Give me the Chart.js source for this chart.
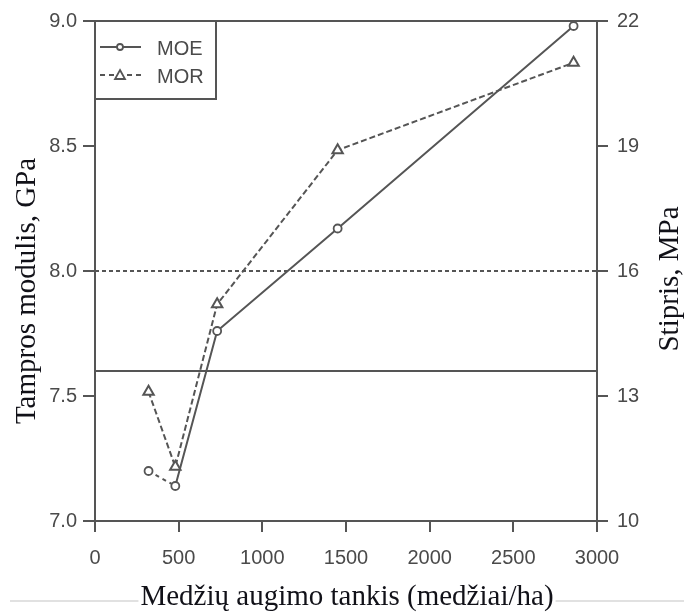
<!DOCTYPE html>
<html>
<head>
<meta charset="utf-8">
<script src="https://cdn.jsdelivr.net/npm/chart.js@4.4.1/dist/chart.umd.min.js"></script>
<style>
  html, body { margin: 0; padding: 0; background: #fff; }
  #wrap { width: 684px; height: 615px; }
</style>
</head>
<body>
<div id="wrap"><canvas id="c" width="684" height="615"></canvas></div>
<script>
// ---- Data ----
const density = [320, 480, 730, 1450, 2860];          // medžiai/ha
const moe = [7.20, 7.14, 7.76, 8.17, 8.98];           // GPa (left axis)
const mor = [13.1, 11.3, 15.2, 18.9, 21.0];           // MPa (right axis)
const refX = [0, 3000];
const refSolid = [7.6, 7.6];                          // solid horizontal line (left axis)
const refDashed = [8.0, 8.0];                         // dashed horizontal line (left axis)
const xTicks = [0, 500, 1000, 1500, 2000, 2500, 3000];
const leftTicks = [7.0, 7.5, 8.0, 8.5, 9.0];
const rightTicks = [10, 13, 16, 19, 22];
const seriesNames = ['MOE', 'MOR'];
const xTitle = 'Medžių augimo tankis (medžiai/ha)';
const leftTitle = 'Tampros modulis, GPa';
const rightTitle = 'Stipris, MPa';

const AX = '#555555';
const TICK_COLOR = '#4a4a4a';
const SERIF = "'Liberation Serif', 'Times New Roman', serif";
const SANS = "'Liberation Sans', Arial, sans-serif";
const TITLE_COLOR = '#111118';

const pts = (xs, ys) => xs.map((x, i) => ({ x: x, y: ys[i] }));

const overlay = {
  id: 'overlay',
  afterDraw(chart) {
    const ctx = chart.ctx;
    const a = chart.chartArea;
    ctx.save();
    // top border
    ctx.strokeStyle = AX; ctx.lineWidth = 2;
    ctx.beginPath(); ctx.moveTo(a.left - 1, a.top); ctx.lineTo(a.right, a.top); ctx.stroke();

    // legend box
    const bx = a.left, by = a.top, bw = 121, bh = 78;
    ctx.fillStyle = '#fff';
    ctx.fillRect(bx, by, bw, bh);
    ctx.strokeStyle = AX; ctx.lineWidth = 2;
    ctx.strokeRect(bx, by, bw, bh);
    const rows = [by + 26, by + 54];
    chart.data.datasets.slice(0, 2).forEach((ds, i) => {
      const y = rows[i];
      ctx.strokeStyle = AX; ctx.lineWidth = 2;
      ctx.setLineDash(i === 0 ? [] : [5, 4]);
      ctx.beginPath(); ctx.moveTo(bx + 5, y); ctx.lineTo(bx + 46, y); ctx.stroke();
      ctx.setLineDash([]);
      ctx.fillStyle = '#fff';
      ctx.lineWidth = 1.8;
      if (i === 0) {
        ctx.beginPath(); ctx.arc(bx + 25, y, 3, 0, Math.PI * 2); ctx.fill(); ctx.stroke();
      } else {
        ctx.beginPath();
        ctx.moveTo(bx + 25, y - 5); ctx.lineTo(bx + 30, y + 4); ctx.lineTo(bx + 20, y + 4); ctx.closePath();
        ctx.fill(); ctx.stroke();
      }
      ctx.fillStyle = TICK_COLOR;
      ctx.font = '20px ' + SANS;
      ctx.textAlign = 'left'; ctx.textBaseline = 'middle';
      ctx.fillText(ds.label, bx + 62, y + 2);
    });

    // axis titles
    ctx.fillStyle = TITLE_COLOR;
    ctx.font = '29px ' + SERIF;
    ctx.textAlign = 'center'; ctx.textBaseline = 'middle';
    const tx = 347, ty = 597;
    const tw = ctx.measureText(xTitle).width;
    // faint page separator behind x title
    ctx.strokeStyle = '#d8d8d8'; ctx.lineWidth = 1.5;
    ctx.beginPath(); ctx.moveTo(10, 601); ctx.lineTo(tx - tw / 2 - 2, 601);
    ctx.moveTo(tx + tw / 2 + 2, 601); ctx.lineTo(684, 601); ctx.stroke();
    ctx.fillText(xTitle, tx, ty);

    ctx.save(); ctx.translate(27, 291); ctx.rotate(-Math.PI / 2);
    ctx.fillText(leftTitle, 0, 0); ctx.restore();

    ctx.save(); ctx.translate(670, 279); ctx.rotate(-Math.PI / 2);
    ctx.fillText(rightTitle, 0, 0); ctx.restore();
    ctx.restore();
  }
};

const tickFont = { family: SANS, size: 20 };

new Chart(document.getElementById('c'), {
  type: 'line',
  data: {
    datasets: [
      {
        label: seriesNames[0], data: pts(density, moe), yAxisID: 'y',
        borderColor: AX, borderWidth: 2, fill: false, tension: 0,
        pointStyle: 'circle', pointRadius: 4, pointBorderWidth: 1.8,
        pointBackgroundColor: '#fff', pointBorderColor: AX,
        segment: { borderDash: c => c.p0DataIndex === 0 ? [4, 4] : undefined },
        clip: false
      },
      {
        label: seriesNames[1], data: pts(density, mor), yAxisID: 'y1',
        borderColor: AX, borderWidth: 2, borderDash: [6, 3], fill: false, tension: 0,
        pointStyle: 'triangle', pointRadius: 6, pointBorderWidth: 2,
        pointBackgroundColor: '#fff', pointBorderColor: AX,
        clip: false
      },
      {
        label: 'ref1', data: pts(refX, refSolid), yAxisID: 'y',
        borderColor: AX, borderWidth: 2.2, pointRadius: 0, fill: false
      },
      {
        label: 'ref2', data: pts(refX, refDashed), yAxisID: 'y',
        borderColor: AX, borderWidth: 2, borderDash: [4, 3], pointRadius: 0, fill: false
      }
    ]
  },
  options: {
    responsive: false,
    animation: false,
    layout: { padding: { top: 17, left: 0, right: 0, bottom: 0 } },
    plugins: { legend: { display: false }, tooltip: { enabled: false } },
    scales: {
      x: {
        type: 'linear', min: 0, max: 3000,
        afterFit: s => { s.height = 94; },
        afterBuildTicks: s => { s.ticks = xTicks.map(v => ({ value: v })); },
        grid: { display: true, drawOnChartArea: false, drawTicks: true, tickLength: 11, color: AX, lineWidth: 2 },
        border: { display: true, color: AX, width: 2 },
        ticks: { font: tickFont, color: TICK_COLOR, padding: 14, maxRotation: 0, autoSkip: false, callback: v => String(v) }
      },
      y: {
        position: 'left', min: 7, max: 9,
        afterFit: s => { s.width = 95; },
        afterBuildTicks: s => { s.ticks = leftTicks.map(v => ({ value: v })); },
        grid: { display: true, drawOnChartArea: false, drawTicks: true, tickLength: 12, color: AX, lineWidth: 2 },
        border: { display: true, color: AX, width: 2 },
        ticks: { font: tickFont, color: TICK_COLOR, padding: 6, callback: v => Number(v).toFixed(1) }
      },
      y1: {
        position: 'right', min: 10, max: 22,
        afterFit: s => { s.width = 87; },
        afterBuildTicks: s => { s.ticks = rightTicks.map(v => ({ value: v })); },
        grid: { display: true, drawOnChartArea: false, drawTicks: true, tickLength: 11, color: AX, lineWidth: 2 },
        border: { display: true, color: AX, width: 2 },
        ticks: { font: tickFont, color: TICK_COLOR, padding: 9, callback: v => String(v) }
      }
    }
  },
  plugins: [overlay]
});
</script>
</body>
</html>
